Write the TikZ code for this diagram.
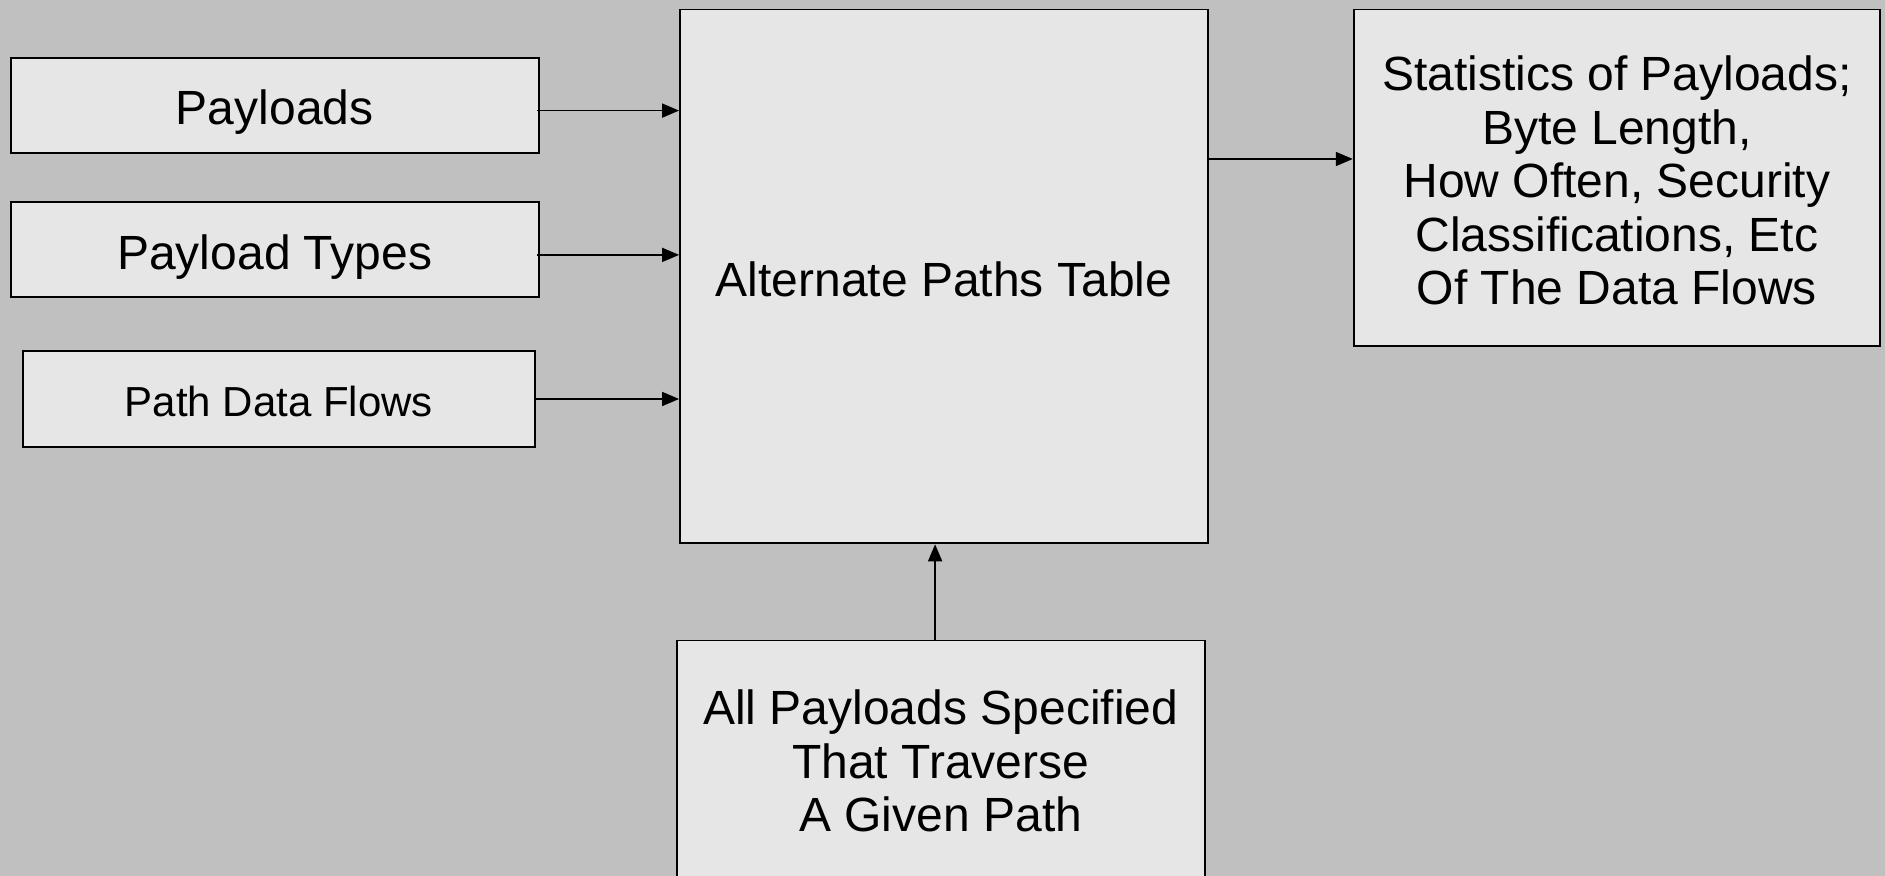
\documentclass[tikz,border=0pt]{standalone}
\usepackage{fontspec}
\setmainfont{Liberation Sans}
\usetikzlibrary{arrows.meta}
\definecolor{bggray}{RGB}{192,192,192}
\definecolor{boxgray}{RGB}{230,230,230}
\tikzset{
  box/.style={draw=black, fill=boxgray, line width=0.9pt, inner sep=0pt,
    font=\fontsize{24}{26.75}\selectfont},
  oneline/.style={text height=19.7pt, text depth=0pt},
  txt/.style={inner sep=0pt, align=center, font=\fontsize{24}{26.75}\selectfont},
  arr/.style={-{Triangle[length=8.5pt,width=7pt]}, line width=0.85pt, black}
}
\begin{document}
\begin{tikzpicture}[x=0.5pt,y=-0.5pt]
\fill[bggray] (0,0) rectangle (1885,876);
\useasboundingbox (0,0) rectangle (1885,876);
\clip (0,0) rectangle (1885,876);

\node[box, oneline, minimum width=263.9pt, minimum height=47.5pt] (pay) at (274.7,105.2) {Payloads};
\node[box, oneline, minimum width=263.9pt, minimum height=47.5pt] (ptypes) at (274.7,249.5) {Payload Types};
\node[box, minimum width=256.1pt, minimum height=48pt, text height=17.2pt, text depth=0pt, font=\fontsize{21}{24}\selectfont] (pdf) at (278.9,399) {Path Data Flows};
\node[box, oneline, minimum width=264pt, minimum height=266.9pt] (main) at (944,276.5) {Alternate Paths Table};
\node[box, minimum width=263.2pt, minimum height=168.2pt] (stats) at (1616.9,177.8) {};
\node[txt] (statstext) at (1616.9,180.4) {Statistics of Payloads;\\Byte Length,\\How Often, Security\\Classifications, Etc\\Of The Data Flows};
\node[box, minimum width=263.9pt, minimum height=150pt, anchor=north] (given) at (940.7,639.6) {};
\node[txt] (giventext) at (940.7,761) {All Payloads Specified\\That Traverse\\A Given Path};

\draw[arr] ([xshift=-1.2pt,yshift=-2.7pt]pay.east) -- ([yshift=-2.7pt]pay.east -| main.west);
\draw[arr] ([xshift=-1.2pt,yshift=-2.7pt]ptypes.east) -- ([yshift=-2.7pt]ptypes.east -| main.west);
\draw[arr] (pdf.east) -- (pdf.east -| main.west);
\draw[arr] ([yshift=9.4pt]stats.west -| main.east) -- ([yshift=9.4pt]stats.west);
\draw[arr] ([xshift=-2.8pt]given.north) -- ([xshift=-2.8pt]given.north |- main.south);
\end{tikzpicture}
\end{document}
